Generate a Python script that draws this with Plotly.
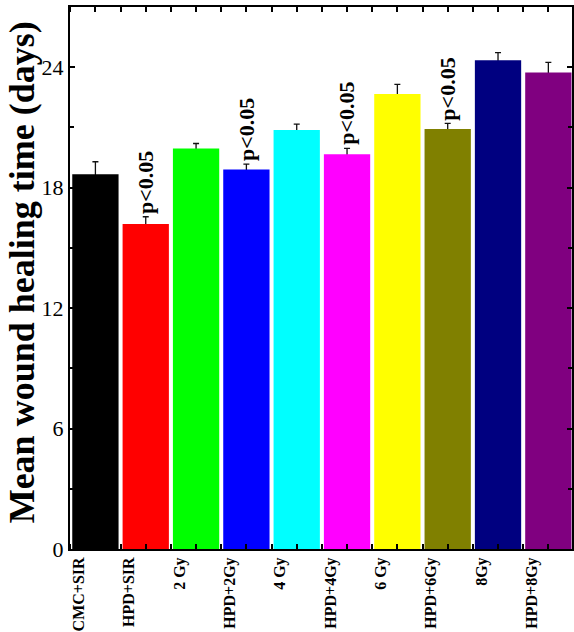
import plotly.graph_objects as go

# Groups, mean healing time (days) and upper error (SEM)
groups = ["CMC+SIR", "HPD+SIR", "2 Gy", "HPD+2Gy", "4 Gy", "HPD+4Gy",
          "6 Gy", "HPD+6Gy", "8Gy", "HPD+8Gy"]
mean_days = [18.67, 16.19, 19.95, 18.91, 20.87, 19.66, 22.66, 20.92, 24.35, 23.74]
err_days = [0.62, 0.36, 0.25, 0.26, 0.30, 0.30, 0.49, 0.28, 0.38, 0.50]
bar_colors = ["#000000", "#FF0000", "#00FF00", "#0000FF", "#00FFFF",
              "#FF00FF", "#FFFF00", "#808000", "#000080", "#800080"]
# groups marked as significant
sig_groups = ["HPD+SIR", "HPD+2Gy", "HPD+4Gy", "HPD+6Gy"]
sig_text = "p<0.05"

y_ticks = [0, 6, 12, 18, 24]

SERIF = "Liberation Serif"
xpos = list(range(len(groups)))
BAR_W = 0.92
LABEL_SHIFT = -0.33

fig = go.Figure()

# error whiskers sit beneath the bars so only the upper half shows
fig.add_trace(go.Bar(
    x=xpos, y=mean_days, width=BAR_W,
    marker=dict(color="rgba(0,0,0,0)", line=dict(width=0)),
    error_y=dict(type="data", array=err_days, visible=True,
                 color="#111111", thickness=1.3, width=3),
    showlegend=False, hoverinfo="skip",
))
fig.add_trace(go.Bar(
    x=xpos, y=mean_days, width=BAR_W,
    marker=dict(color=bar_colors, line=dict(width=0)),
    showlegend=False,
))

for i, g in enumerate(groups):
    if g in sig_groups:
        fig.add_annotation(
            x=xpos[i], y=mean_days[i] + err_days[i], xref="x", yref="y",
            text=sig_text, textangle=-90, showarrow=False,
            xanchor="center", yanchor="bottom", yshift=1,
            font=dict(family=SERIF, size=22, color="black", weight="bold"),
        )

# y-axis title
fig.add_annotation(
    x=-0.095, y=0.511, xref="paper", yref="paper",
    text="Mean wound healing time (days)", textangle=-90, showarrow=False,
    xanchor="center", yanchor="middle",
    font=dict(family=SERIF, size=36, color="black", weight="bold"),
)

fig.update_layout(
    width=574, height=632,
    margin=dict(l=70, r=0, t=7, b=83),
    paper_bgcolor="white", plot_bgcolor="white",
    barmode="overlay",
    xaxis=dict(
        range=[-0.505, 9.47],
        tickvals=[p + LABEL_SHIFT for p in xpos], ticktext=groups,
        tickangle=-90, ticks="",
        tickfont=dict(family=SERIF, size=16, color="black", weight="bold"),
        minor=dict(ticks="inside", tick0=0, dtick=0.5, ticklen=5,
                   tickwidth=1.5, tickcolor="black"),
        showline=True, linewidth=2, linecolor="black", mirror="ticks",
        showgrid=False, zeroline=False,
    ),
    yaxis=dict(
        range=[0, 27], tickvals=y_ticks,
        ticks="inside", ticklen=5, tickwidth=1.5, tickcolor="black",
        tickfont=dict(family=SERIF, size=22, color="black"),
        minor=dict(ticks="inside", tick0=0, dtick=3, ticklen=4,
                   tickwidth=1.5, tickcolor="black"),
        showline=True, linewidth=2, linecolor="black", mirror="ticks",
        showgrid=False, zeroline=False,
    ),
)

fig.write_html("out.html")
